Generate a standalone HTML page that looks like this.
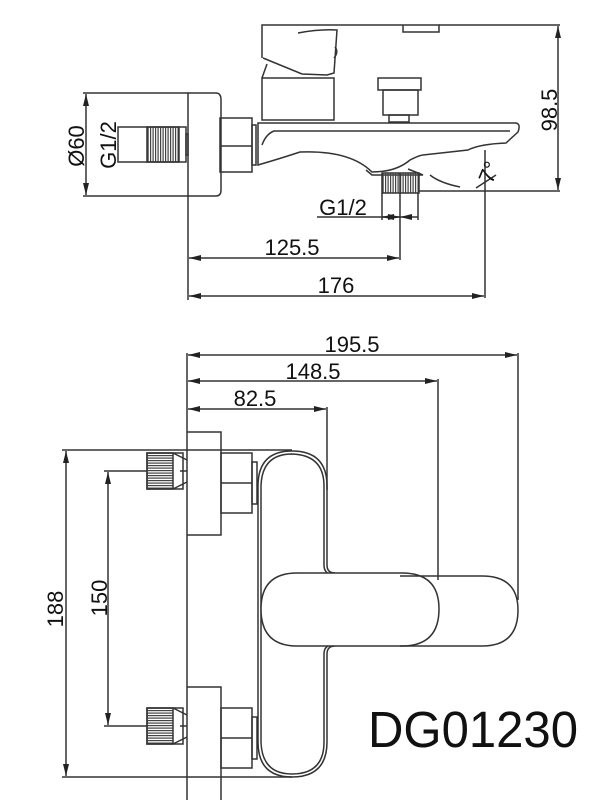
<!DOCTYPE html>
<html><head><meta charset="utf-8"><style>
html,body{margin:0;padding:0;background:#fff;}
svg{display:block;}
text{font-family:"Liberation Sans",Arial,sans-serif;fill:#111;}
</style></head><body>
<svg width="605" height="805" viewBox="0 0 605 805" xmlns="http://www.w3.org/2000/svg">
<defs>
<marker id="a" viewBox="0 0 12 6" refX="12" refY="3" markerWidth="12" markerHeight="6" orient="auto-start-reverse" markerUnits="userSpaceOnUse"><path d="M0,0 L12,3 L0,6 z" fill="#222"/></marker>
<pattern id="th" width="2.5" height="4" patternUnits="userSpaceOnUse"><rect width="1.2" height="4" fill="#444"/></pattern>
<pattern id="tv" width="4" height="2.5" patternUnits="userSpaceOnUse"><rect width="4" height="1.2" fill="#444"/></pattern>
</defs>
<g fill="none" stroke="#333" stroke-width="1.5">
<!-- TOP VIEW -->
<path d="M262,58 V25 H403 V32 H439 V25 H403"/>
<path d="M298,33 Q320,29 337,30 L334,73 L327,75 L302,74 L263,58"/>
<path d="M335,47 Q339,52 334,58"/>
<path d="M267,64 L262,78"/>
<rect x="262" y="78" width="72" height="42"/>
<rect x="378" y="78" width="43" height="12"/>
<rect x="383" y="90" width="35" height="25"/>
<rect x="389" y="115" width="20" height="7"/>
<path d="M188,93 H216 Q221,93 221,100 V190 Q221,196 216,196 H188 Z"/>
<rect x="220" y="118" width="32" height="54"/>
<path d="M220,146 H252"/>
<rect x="252" y="125" width="4" height="40"/>
<path d="M258,123 H516 Q521,124 518,132 L506,143 Q480,144 468,150 L423,155 Q420,155 410,160 Q396,172 372,172 Q350,150 300,152 Q282,158 258,165 Z"/>
<path d="M262,145 Q266,134 274,131 L510,131"/>
<path d="M408,169 L423,175 L372,175 L366,170"/>
<rect x="118" y="127" width="68" height="35"/>
<rect x="147" y="127" width="32" height="35" fill="url(#th)"/>
<rect x="186" y="134" width="2" height="21"/>
<rect x="382" y="173" width="37" height="20" fill="url(#th)"/>
<path d="M485,150 V298"/>
<path d="M430,175 Q440,183 460,187"/>
<path d="M476,188 L496,175"/>
<path d="M419,191 H560"/>
<path d="M83,93 H188 M83,196 H188"/>
<line x1="86" y1="94" x2="86" y2="195" marker-start="url(#a)" marker-end="url(#a)"/>
<line x1="558" y1="26" x2="558" y2="190" marker-start="url(#a)" marker-end="url(#a)"/>
<path d="M439,25 H560"/>
<path d="M382,193 V220 M418,193 V220 M400,173 V260 M188,196 V300"/>
<line x1="317" y1="217" x2="400" y2="217"/>
<line x1="382" y1="217" x2="400" y2="217" marker-start="url(#a)" marker-end="url(#a)"/>
<line x1="400" y1="217" x2="418" y2="217" marker-start="url(#a)"/>
<line x1="189" y1="258" x2="399" y2="258" marker-start="url(#a)" marker-end="url(#a)"/>
<line x1="189" y1="296" x2="484" y2="296" marker-start="url(#a)" marker-end="url(#a)"/>
<!-- BOTTOM VIEW -->
<path d="M187,353 V800 M221,800 V770"/>
<line x1="188" y1="355" x2="517" y2="355" marker-start="url(#a)" marker-end="url(#a)"/>
<line x1="188" y1="381" x2="437" y2="381" marker-start="url(#a)" marker-end="url(#a)"/>
<line x1="188" y1="409" x2="326" y2="409" marker-start="url(#a)" marker-end="url(#a)"/>
<path d="M518,353 V600 M438,379 V580 M327,407 V490"/>
<path d="M187,432 H221 V535 H187"/>
<path d="M187,687 H221 V770"/>
<rect x="221" y="453" width="31" height="60"/>
<path d="M221,483 H252"/>
<rect x="221" y="708" width="31" height="60"/>
<path d="M221,738 H252"/>
<rect x="252" y="462" width="5" height="42"/>
<rect x="252" y="717" width="5" height="42"/>
<rect x="147" y="453" width="36" height="36"/>
<rect x="147" y="453" width="26" height="36" fill="url(#tv)"/>
<path d="M173,453 L187,460 M173,489 L187,482 M180,471 H187"/>
<rect x="147" y="708" width="36" height="36"/>
<rect x="147" y="708" width="26" height="36" fill="url(#tv)"/>
<path d="M173,708 L187,715 M173,744 L187,737 M180,726 H187"/>
<path d="M258,742 V486 Q258,451 292,451 Q327,451 327,486 V565 Q327,573 335,573"/>
<path d="M335,646 Q327,646 327,654 V742 Q327,777 292,777 Q258,777 258,742"/>
<path d="M261,742 V486 Q262,454 292,454 Q324,455 324,486 V565 Q324,574 333,575"/>
<path d="M333,645 Q324,645 324,654 V742 Q324,774 292,774 Q262,774 261,742"/>
<path d="M297,573 H402 Q439,573 439,609 Q439,646 402,646 H297 Q261,646 261,609 Q261,573 297,573 Z" fill="#fff"/>
<path d="M400,576 H482 Q518,576 518,610 Q518,646 482,646 H400"/>
<path d="M62,450 H292 M62,777 H292 M104,471 H147 M104,726 H147"/>
<line x1="66" y1="451" x2="66" y2="776" marker-start="url(#a)" marker-end="url(#a)"/>
<line x1="108" y1="472" x2="108" y2="725" marker-start="url(#a)" marker-end="url(#a)"/>
</g>
<g font-size="22" text-anchor="middle">
<text x="343" y="215">G1/2</text>
<text x="292" y="255">125.5</text>
<text x="336" y="293">176</text>
<text transform="translate(557,110) rotate(-90)">98.5</text>
<text transform="translate(84,146) rotate(-90)">Ø60</text>
<text transform="translate(116,145) rotate(-90)">G1/2</text>
<text transform="translate(496,175) rotate(-68)">7°</text>
<text x="352" y="352">195.5</text>
<text x="313" y="379">148.5</text>
<text x="255" y="406">82.5</text>
<text transform="translate(63,609) rotate(-90)">188</text>
<text transform="translate(107,598) rotate(-90)">150</text>
</g>
<text x="368" y="747" font-size="51" textLength="210" lengthAdjust="spacingAndGlyphs">DG01230</text>
</svg>
</body></html>
